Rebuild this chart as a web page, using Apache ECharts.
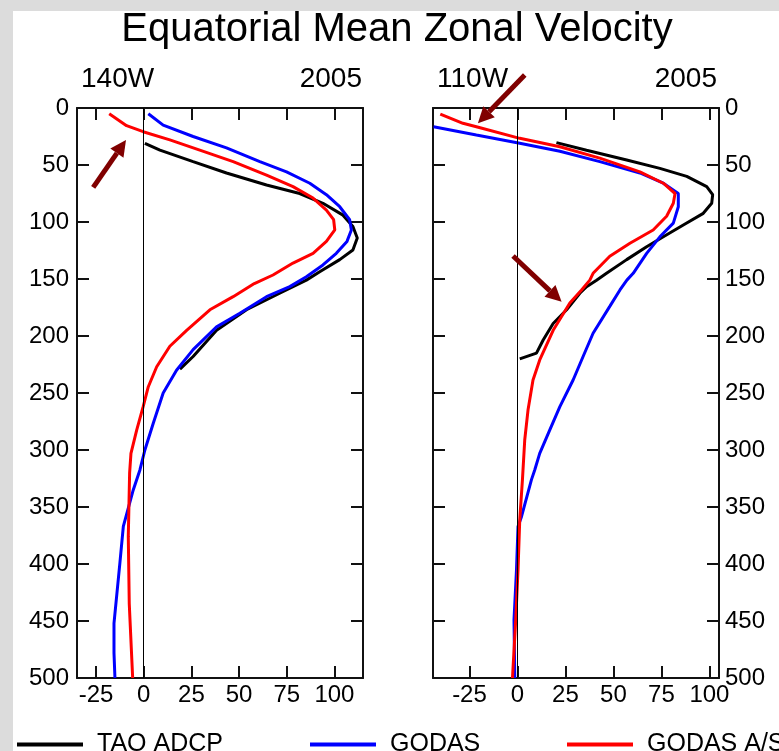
<!DOCTYPE html>
<html>
<head>
<meta charset="utf-8">
<title>Equatorial Mean Zonal Velocity</title>
<script src="https://cdn.jsdelivr.net/npm/echarts@6/dist/echarts.min.js"></script>
<style>
  html, body { margin: 0; padding: 0; background: #fff; }
  #chart { width: 779px; height: 751px; }
</style>
</head>
<body>
<div id="chart"></div>
<script>
// velocity (cm/s) vs depth (m)
const velTicks = [-25, 0, 25, 50, 75, 100]
const panelTitles = [['140W', '2005'], ['110W', '2005']]

const tao140 = [[0.6, 31], [8.5, 37], [25.9, 47], [43.4, 57], [64.4, 67.5], [81.8, 75], [94, 83.6], [104.5, 94], [109.7, 104], [112, 114], [109.7, 124.6], [102.8, 133], [92.3, 143.6], [85.3, 151], [78.3, 156.7], [71.3, 162.5], [53.9, 177], [38.2, 195], [25.9, 218], [19, 229]]
const godas140 = [[2.4, 5], [10.2, 15], [25.9, 25], [43.4, 35], [60.9, 47], [74.9, 56], [87.1, 66], [95.8, 76], [102.8, 86.6], [108, 98], [108.9, 107], [106.6, 117], [101, 127.5], [94, 137.7], [85.3, 148], [76.6, 156.7], [64.4, 165.5], [50.4, 180], [38.2, 192], [25.9, 212], [17.2, 230], [10.2, 250], [5, 276.6], [0.6, 300], [-2, 317.5], [-5.5, 335], [-10.7, 367], [-12.5, 399], [-15.6, 452], [-15.6, 478], [-15.1, 500]]
const godasAS140 = [[-18.1, 5], [-9, 15.5], [-0.3, 20.8], [13.7, 28], [29.4, 37], [46.9, 47], [64.4, 58.8], [78.3, 69], [88.8, 79], [95.8, 89.5], [99.6, 98], [100.2, 107], [95.8, 117], [88.8, 127.5], [78.3, 136], [67.8, 146.5], [58, 154], [46.9, 165.5], [34.7, 177], [22.5, 195], [13.7, 209], [6.8, 227], [2.4, 244.5], [-0.3, 262], [-3.7, 282.5], [-6.7, 303], [-7.4, 320], [-8.1, 376], [-7.6, 434.5], [-5.8, 500]]

const tao110 = [[20.3, 30.4], [36, 37], [56.9, 45.6], [74.2, 53], [88.2, 60], [98.6, 69], [101.7, 76], [101.2, 83.6], [96.8, 92.4], [86.4, 102.6], [76, 113], [67.3, 121.7], [56.9, 133], [46.4, 145], [41.2, 151], [36, 156.7], [32.5, 162.5], [25.6, 177], [18.6, 189], [13.4, 203.5], [9.9, 215], [1.2, 220]]
const godas110 = [[-43.7, 16.4], [-21.4, 23.7], [1.2, 31], [22.1, 38], [42.9, 47], [63.8, 57], [76, 66], [83.8, 75], [83.8, 86.6], [81.2, 101], [74.2, 113], [67.3, 127.5], [60.3, 145], [57, 151], [53.4, 159.6], [48.1, 174], [39.4, 197.6], [34.2, 218], [29, 238.6], [22.1, 262], [16.8, 282.5], [11.6, 303], [9, 317.5], [7.3, 326], [2.1, 358.5], [0.3, 367], [-0.5, 405], [-1.8, 449], [-1.4, 500]]
const godasAS110 = [[-40.2, 5.3], [-28.4, 13.4], [-21.4, 16.4], [1.2, 26.6], [22.1, 34], [42.9, 44], [63.8, 56], [76, 66], [82.1, 75], [81.2, 83.6], [77.7, 95], [70.7, 107], [58.6, 118.7], [48.1, 130], [39.4, 145], [37.7, 151], [33.4, 159.6], [27.3, 171], [18.6, 195], [11.6, 221], [8.1, 238.6], [5.5, 265], [3.8, 291], [2.6, 326], [1.2, 361], [0.3, 405], [-0.9, 449], [-2.6, 500]]

// annotation arrows, tail -> tip, in data units of each panel
const arrows = [
  { panel: 0, from: [-26.5, 69.6], to: [-9.3, 28] },
  { panel: 1, from: [3.8, -29], to: [-20.6, 13.4] },
  { panel: 1, from: [-2.3, 129.8], to: [23, 170] }
]

const font = 'Liberation Sans, Arial, Helvetica, sans-serif'
const names = ['TAO ADCP', 'GODAS', 'GODAS A/S']
const colors = ['#000000', '#0000ff', '#ff0000']
const legendLefts = [12, 305, 562]

function velAxis (grid, pos, min, max, labels) {
  return {
    type: 'value',
    gridIndex: grid,
    position: pos,
    min: min,
    max: max,
    splitLine: { show: false },
    axisLine: { onZero: false, lineStyle: { color: '#111', width: 2 } },
    axisTick: { inside: true, length: 12, customValues: velTicks, lineStyle: { color: '#111', width: 2 } },
    axisLabel: { show: labels, customValues: velTicks, margin: 5, color: '#000', fontSize: 24, fontFamily: font }
  }
}

function depthAxis (grid, pos, labels) {
  return {
    type: 'value',
    gridIndex: grid,
    position: pos,
    inverse: true,
    min: 0,
    max: 500,
    interval: 50,
    splitLine: { show: false },
    axisLine: { onZero: false, lineStyle: { color: '#111', width: 2 } },
    axisTick: { inside: true, length: 12, lineStyle: { color: '#111', width: 2 } },
    axisLabel: { show: labels, margin: pos === 'left' ? 8 : 6, color: '#000', fontSize: 24, fontFamily: font }
  }
}

function profile (i, data, xi, yi) {
  return {
    name: names[i],
    type: 'line',
    xAxisIndex: xi,
    yAxisIndex: yi,
    data: data,
    showSymbol: false,
    symbol: 'none',
    color: colors[i],
    lineStyle: { color: colors[i], width: 3 }
  }
}

const zeroLine = {
  silent: true,
  symbol: ['none', 'none'],
  label: { show: false },
  lineStyle: { color: '#000', width: 1, type: 'solid' },
  data: [{ xAxis: 0 }]
}

const left = [tao140, godas140, godasAS140].map((d, i) => profile(i, d, 0, 0))
const right = [tao110, godas110, godasAS110].map((d, i) => profile(i, d, 2, 3))
left[0].markLine = zeroLine
right[0].markLine = zeroLine

const option = {
  animation: false,
  backgroundColor: '#fff',
  grid: [
    { left: 77, top: 108, width: 286, height: 570 },
    { left: 433, top: 108, width: 286, height: 570 }
  ],
  xAxis: [
    velAxis(0, 'bottom', -35, 115, true),
    velAxis(0, 'top', -35, 115, false),
    velAxis(1, 'bottom', -44, 105, true),
    velAxis(1, 'top', -44, 105, false)
  ],
  yAxis: [
    depthAxis(0, 'left', true),
    depthAxis(0, 'right', false),
    depthAxis(1, 'left', false),
    depthAxis(1, 'right', true)
  ],
  legend: names.map((n, i) => ({
    data: [n],
    left: legendLefts[i],
    top: 727,
    icon: 'rect',
    itemWidth: 66,
    itemHeight: 4,
    selectedMode: false,
    textStyle: { fontSize: 25, fontFamily: font, color: '#000', padding: [0, 0, 0, 9] }
  })),
  series: left.concat(right)
}

const myChart = echarts.init(document.getElementById('chart'))
myChart.setOption(option)

// frame, titles and arrows
const graphic = [
  { type: 'rect', shape: { x: 0, y: 0, width: 779, height: 11 }, style: { fill: '#dcdcdc' }, z: 100 },
  { type: 'rect', shape: { x: 0, y: 0, width: 13, height: 751 }, style: { fill: '#dcdcdc' }, z: 100 },
  { type: 'text', x: 397, y: 30, style: { text: 'Equatorial Mean Zonal Velocity', font: '40px ' + font, fill: '#000', align: 'center', verticalAlign: 'middle' } }
]
const panelEdges = [[81, 362], [437, 717]]
panelTitles.forEach((t, i) => {
  graphic.push({ type: 'text', x: panelEdges[i][0], y: 79, style: { text: t[0], font: '28px ' + font, fill: '#000', align: 'left', verticalAlign: 'middle' } })
  graphic.push({ type: 'text', x: panelEdges[i][1], y: 79, style: { text: t[1], font: '28px ' + font, fill: '#000', align: 'right', verticalAlign: 'middle' } })
})
arrows.forEach(a => {
  const finder = { seriesIndex: a.panel * 3 }
  const p0 = myChart.convertToPixel(finder, a.from)
  const p1 = myChart.convertToPixel(finder, a.to)
  const dx = p1[0] - p0[0]
  const dy = p1[1] - p0[1]
  const len = Math.sqrt(dx * dx + dy * dy)
  const ux = dx / len
  const uy = dy / len
  const head = 16
  const half = 8
  const bx = p1[0] - ux * head
  const by = p1[1] - uy * head
  graphic.push({ type: 'line', shape: { x1: p0[0], y1: p0[1], x2: bx, y2: by }, style: { stroke: '#800000', lineWidth: 5 }, z: 50 })
  graphic.push({
    type: 'polygon',
    shape: { points: [[p1[0], p1[1]], [bx - uy * half, by + ux * half], [bx + uy * half, by - ux * half]] },
    style: { fill: '#800000' },
    z: 50
  })
})
myChart.setOption({ graphic: graphic })
</script>
</body>
</html>
